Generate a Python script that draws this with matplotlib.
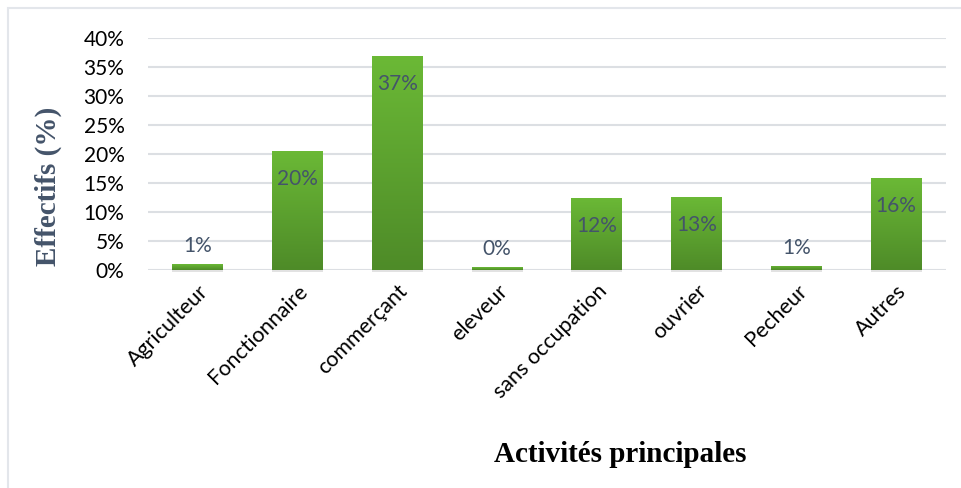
import matplotlib.pyplot as plt
import matplotlib.colors as mcolors
from matplotlib.patches import Rectangle
import numpy as np

categories = ["Agriculteur", "Fonctionnaire", "commerçant", "eleveur",
              "sans occupation", "ouvrier", "Pecheur", "Autres"]
values = [1.0, 20.5, 36.8, 0.5, 12.4, 12.6, 0.7, 15.8]
labels = ["1%", "20%", "37%", "0%", "12%", "13%", "1%", "16%"]
yticks = [0, 5, 10, 15, 20, 25, 30, 35, 40]

W, H = 961, 488
fig = plt.figure(figsize=(W / 100, H / 100), dpi=100)
ax = fig.add_axes([148 / W, (H - 270) / H, (946 - 148) / W, (270 - 37.5) / H])

# outer frame (cut at right and bottom like the reference)
fig.patches.append(Rectangle((8 / W, -0.2), 1.2, 1.2 - 8 / H,
                             transform=fig.transFigure, fill=False,
                             edgecolor="#E3E6EB", linewidth=1.5))

x = np.arange(len(categories))
bars = ax.bar(x, values, width=0.51, color="#5FA531", zorder=2)

# vertical green gradient on each bar
cmap = mcolors.LinearSegmentedColormap.from_list("g", ["#4E8B28", "#6BB936"])
grad = np.linspace(0, 1, 256).reshape(-1, 1)
for b in bars:
    x0, w, h = b.get_x(), b.get_width(), b.get_height()
    im = ax.imshow(grad, cmap=cmap, origin="lower", aspect="auto",
                   extent=[x0, x0 + w, 0, max(h, 0.01)], zorder=3)
    im.set_clip_path(b)
    # faint shadow under bar
    ax.add_patch(Rectangle((x0, -0.35), w, 0.35, color="#D0D0D0",
                           alpha=0.6, zorder=1, clip_on=False, linewidth=0))

for xi, v, lab in zip(x, values, labels):
    if v > 5:
        ax.annotate(lab, (xi, v), xytext=(0, -20), textcoords="offset points",
                    ha="center", va="center", fontsize=15, family="Lato",
                    color="#44546A", zorder=5)
    else:
        ax.annotate(lab, (xi, v), xytext=(0, 13), textcoords="offset points",
                    ha="center", va="center", fontsize=15, family="Lato",
                    color="#44546A", zorder=5)

ax.set_xlim(-0.5, len(categories) - 0.5)
ax.set_ylim(0, 40)
ax.set_yticks(yticks)
ax.set_yticklabels([f"{t}%" for t in yticks], fontsize=15, family="Lato")
ax.set_xticks(x)
ax.set_xticklabels(categories, rotation=45, ha="right", rotation_mode="anchor",
                   fontsize=15.5, family="Lato")
ax.tick_params(axis="y", length=0, pad=17)
ax.tick_params(axis="x", length=0, pad=8)
ax.grid(axis="y", color="#DCDFE3", linewidth=1.5, zorder=0)
ax.set_axisbelow(True)
for s in ax.spines.values():
    s.set_visible(False)

fig.text(48 / W, 1 - 186 / H, "Effectifs (%)", rotation=90, ha="center",
         va="center", fontsize=21, fontweight="bold",
         family="Liberation Serif", color="#44546A")
fig.text(620 / W, 1 - 455 / H, "Activités principales", ha="center",
         va="center", fontsize=21, fontweight="bold",
         family="Liberation Serif", color="black")

fig.savefig("out.png", dpi=100)
